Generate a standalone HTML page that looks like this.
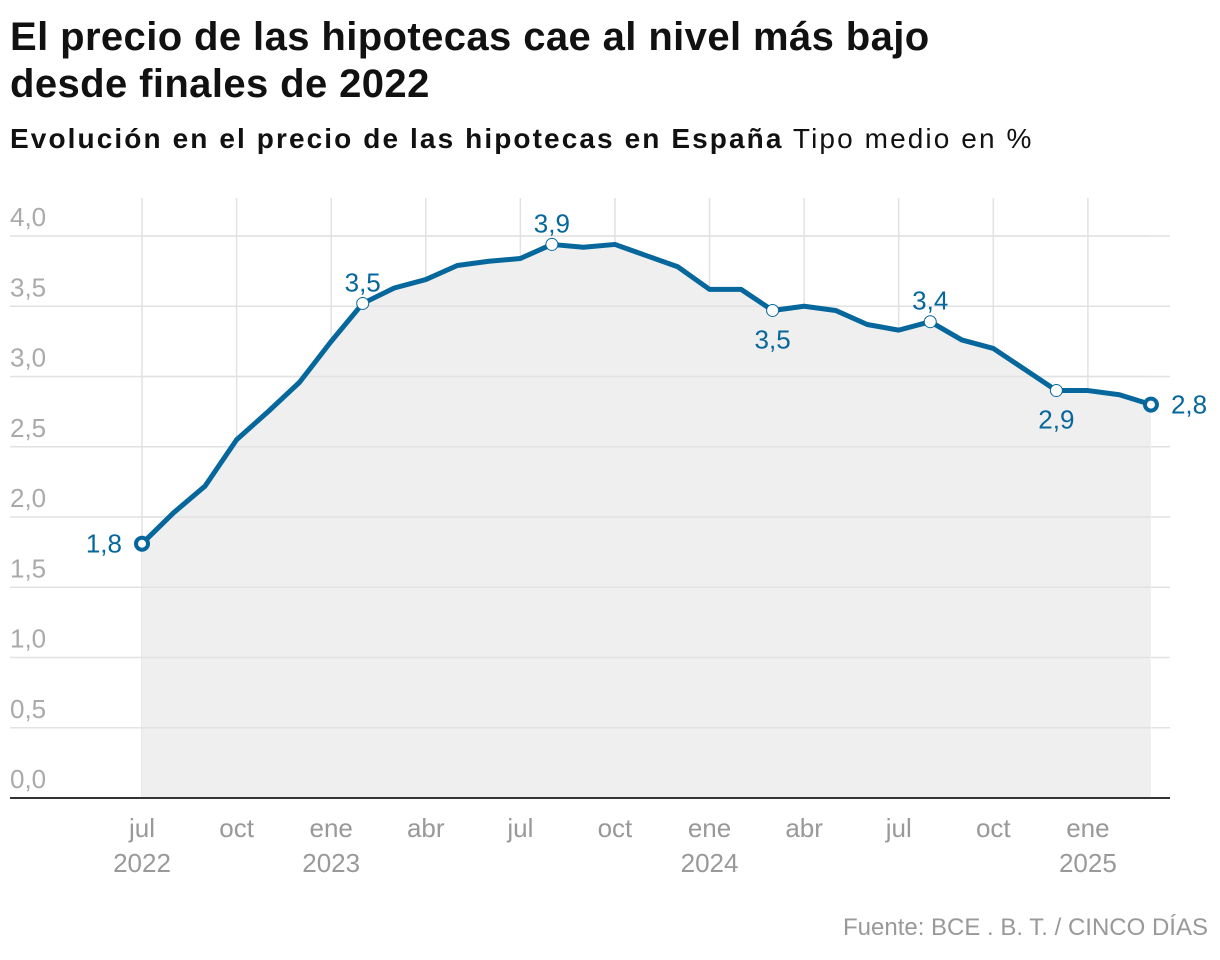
<!DOCTYPE html>
<html><head><meta charset="utf-8"><style>
body{margin:0;width:1220px;height:960px;background:#fff;font-family:"Liberation Sans",sans-serif;overflow:hidden;position:relative}
h1{position:absolute;left:10px;top:14px;margin:0;font-size:40px;line-height:47px;font-weight:bold;color:#111;letter-spacing:0.4px}
.sub{position:absolute;left:10px;top:123px;font-size:28px;color:#111;letter-spacing:2.1px}
.src{position:absolute;right:12px;top:914px;font-size:24px;color:#999}
svg{position:absolute;left:0;top:0}
</style></head><body>
<h1>El precio de las hipotecas cae al nivel más bajo<br>desde finales de 2022</h1>
<div class="sub"><b>Evolución en el precio de las hipotecas en España</b> Tipo medio en %</div>
<div class="src">Fuente: BCE . B. T. / CINCO DÍAS</div>
<svg id="c" width="1220" height="960"></svg>
<script>
const values=[1.81,2.03,2.22,2.55,2.75,2.96,3.25,3.52,3.63,3.69,3.79,3.82,3.84,3.94,3.92,3.94,3.86,3.78,3.62,3.62,3.47,3.50,3.47,3.37,3.33,3.39,3.26,3.20,3.05,2.90,2.90,2.87,2.80];
const yTicks=[0,0.5,1,1.5,2,2.5,3,3.5,4];
const yTickLabels=["0,0","0,5","1,0","1,5","2,0","2,5","3,0","3,5","4,0"];
const xTickIdx=[0,3,6,9,12,15,18,21,24,27,30];
const xTickLabels=["jul","oct","ene","abr","jul","oct","ene","abr","jul","oct","ene"];
const xYearLabels=["2022","","2023","","","","2024","","","","2025"];
const annIdx=[0,7,13,20,25,29,32];
const annText=["1,8","3,5","3,9","3,5","3,4","2,9","2,8"];
const annPos=["left","above","above","below","above","below","right"];
const NS="http://www.w3.org/2000/svg",svg=document.getElementById('c');
const x=i=>142+i*31.53, y=v=>798-v*140.5;
function mk(t,a){const e=document.createElementNS(NS,t);for(const k in a)e.setAttribute(k,a[k]);svg.appendChild(e);return e;}
yTicks.forEach((v,i)=>{
 const g=mk('line',{x1:10,x2:1170,y1:y(v),y2:y(v),stroke:'#e2e2e2','stroke-width':1.5});
 
 
 const t=mk('text',{x:10,y:y(v)-10,fill:'#aaa','font-size':26});t.textContent=yTickLabels[i];
 
 
});
for(let i=0;i<=30;i+=3){const l=mk('line',{x1:x(i),x2:x(i),y1:198,y2:798,stroke:'#e2e2e2','stroke-width':1.5});
 
 }
let d=`M${x(0)},${y(0)}`;values.forEach((v,i)=>d+=`L${x(i)},${y(v)}`);d+=`L${x(values.length-1)},${y(0)}Z`;
const area=mk('path',{d:d,fill:'#efefef'});


yTicks.forEach(v=>{const g=mk('line',{x1:142,x2:1150,y1:y(v),y2:y(v),stroke:'#e2e2e2','stroke-width':1.5});
 
 });
const ax=mk('line',{x1:10,x2:1170,y1:798,y2:798,stroke:'#333','stroke-width':2});


xTickIdx.forEach((idx,i)=>{
 const t=mk('text',{x:x(idx),y:837,fill:'#999','font-size':26,'text-anchor':'middle'});t.textContent=xTickLabels[i];
 
 
 if(xYearLabels[i]){const u=mk('text',{x:x(idx),y:872,fill:'#999','font-size':26,'text-anchor':'middle'});u.textContent=xYearLabels[i];
 
 }
});
const pl=mk('polyline',{points:values.map((v,i)=>x(i)+','+y(v)).join(' '),fill:'none',stroke:'#05679b','stroke-width':5,'stroke-linejoin':'round'});


annIdx.forEach((idx,k)=>{
 const cx=x(idx),cy=y(values[idx]),end=(k==0||k==annIdx.length-1);
 const c=mk('circle',{cx:cx,cy:cy,r:6,fill:'#fff',stroke:'#05679b','stroke-width':end?4:1});
 
 
 let tx=cx,ty=cy-12,anc='middle';
 if(annPos[k]=='below')ty=cy+38;
 if(annPos[k]=='left'){tx=cx-20;ty=cy+9;anc='end';}
 if(annPos[k]=='right'){tx=cx+20;ty=cy+9;anc='start';}
 const t=mk('text',{x:tx,y:ty,fill:'#05679b','font-size':26,'text-anchor':anc});t.textContent=annText[k];
 
 
});
</script>
</body></html>
